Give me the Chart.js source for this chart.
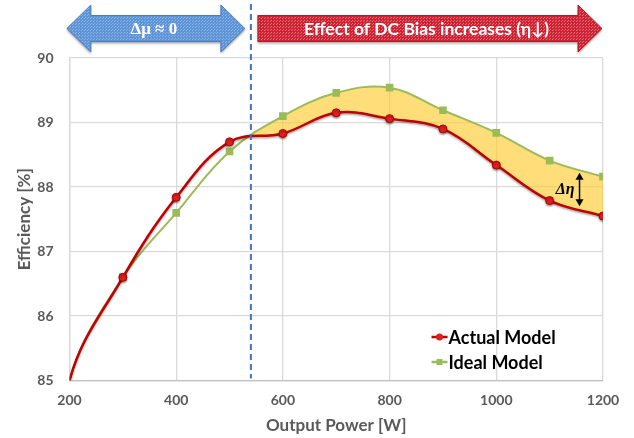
<!DOCTYPE html>
<html>
<head>
<meta charset="utf-8">
<script src="https://cdn.jsdelivr.net/npm/chart.js@4.4.1/dist/chart.umd.min.js"></script>
<style>
  html, body { margin: 0; padding: 0; background: #fff; }
</style>
</head>
<body>
<canvas id="chart" width="634" height="438"></canvas>
<script>
// data (the 100 W point lies below the axis and only shapes the curve)
const outputPower = [100, 200, 300, 400, 500, 600, 700, 800, 900, 1000, 1100, 1200];
const actualModel = [80.5, 85.0, 86.6, 87.84, 88.7, 88.83, 89.15, 89.06, 88.9, 88.34, 87.79, 87.55];
const idealModel = [80.5, 85.0, 86.6, 87.6, 88.55, 89.1, 89.46, 89.54, 89.19, 88.84, 88.41, 88.16];
const xTicks = [200, 400, 600, 800, 1000, 1200];
const yTicks = [85, 86, 87, 88, 89, 90];
const biasStart = 540; // where DC bias starts to matter

const seriesNames = ["Actual Model", "Ideal Model"];
const leftArrowText = "Δμ ≈ 0";
const rightArrowText = "Effect of DC Bias increases (η↓)";
const deltaText = "Δη";

const gray = "#595959";
const tickFont = { family: "Lato", weight: "bold", size: 14 };
const titleFont = { family: "Lato", weight: "bold", size: 17 };

function toPoints(ys) {
  return outputPower.map((x, i) => ({ x: x, y: ys[i] }));
}

function makePattern(ctx, base, dot) {
  const c = document.createElement("canvas");
  c.width = 3;
  c.height = 3;
  const g = c.getContext("2d");
  g.fillStyle = base;
  g.fillRect(0, 0, 3, 3);
  g.fillStyle = dot;
  g.fillRect(0, 0, 1, 1);
  g.fillRect(1, 2, 1, 1);
  return ctx.createPattern(c, "repeat");
}

function arrowPath(ctx, x0, x1, yc, bodyH, headH, headL, both) {
  const bt = yc - bodyH / 2, bb = yc + bodyH / 2;
  const ht = yc - headH / 2, hb = yc + headH / 2;
  ctx.beginPath();
  if (both) {
    ctx.moveTo(x0, yc);
    ctx.lineTo(x0 + headL, ht);
    ctx.lineTo(x0 + headL, bt);
  } else {
    ctx.moveTo(x0, bt);
  }
  ctx.lineTo(x1 - headL, bt);
  ctx.lineTo(x1 - headL, ht);
  ctx.lineTo(x1, yc);
  ctx.lineTo(x1 - headL, hb);
  ctx.lineTo(x1 - headL, bb);
  if (both) {
    ctx.lineTo(x0 + headL, bb);
    ctx.lineTo(x0 + headL, hb);
  } else {
    ctx.lineTo(x0, bb);
  }
  ctx.closePath();
}

function smallArrowHead(ctx, x, y, dir) {
  ctx.beginPath();
  ctx.moveTo(x, y);
  ctx.lineTo(x - 4, y - dir * 7);
  ctx.lineTo(x + 4, y - dir * 7);
  ctx.closePath();
  ctx.fill();
}

// hide markers that sit on or outside the left edge
function markerRadius(c) {
  return c.parsed && c.parsed.x <= 200 ? 0 : 4;
}

// drop shadow on the red line
const lineShadow = {
  id: "lineShadow",
  beforeDatasetDraw(chart, args) {
    if (args.index !== 0) return;
    const ctx = chart.ctx;
    ctx.save();
    ctx.shadowColor = "rgba(0,0,0,0.35)";
    ctx.shadowBlur = 2;
    ctx.shadowOffsetY = 1.5;
  },
  afterDatasetDraw(chart, args) {
    if (args.index !== 0) return;
    chart.ctx.restore();
  }
};

const annotations = {
  id: "annotations",
  afterDatasetsDraw(chart) {
    const ctx = chart.ctx;
    const xs = chart.scales.x, ys = chart.scales.y;
    const area = chart.chartArea;

    // dashed boundary line
    const bx = xs.getPixelForValue(biasStart);
    ctx.save();
    ctx.strokeStyle = "#4472C4";
    ctx.lineWidth = 2;
    ctx.setLineDash([6, 4]);
    ctx.beginPath();
    ctx.moveTo(bx, 4);
    ctx.lineTo(bx, area.bottom - 2);
    ctx.stroke();
    ctx.restore();

    // top arrows
    const yc = 28.5;
    ctx.save();
    ctx.shadowColor = "rgba(0,0,0,0.35)";
    ctx.shadowBlur = 2;
    ctx.shadowOffsetY = 2;
    arrowPath(ctx, xs.getPixelForValue(195), bx - 6, yc, 26, 47, 24, true);
    ctx.fillStyle = makePattern(ctx, "#5E93D6", "#8DB5E6");
    ctx.fill();
    ctx.shadowColor = "transparent";
    ctx.strokeStyle = "#4A7EC0";
    ctx.lineWidth = 1;
    ctx.stroke();

    ctx.shadowColor = "rgba(0,0,0,0.35)";
    arrowPath(ctx, bx + 7, xs.getPixelForValue(1200) - 1, yc, 26, 47, 24, false);
    ctx.fillStyle = makePattern(ctx, "#CC2232", "#E8707A");
    ctx.fill();
    ctx.shadowColor = "transparent";
    ctx.strokeStyle = "#B01C28";
    ctx.stroke();
    ctx.restore();

    ctx.save();
    ctx.fillStyle = "#fff";
    ctx.textAlign = "center";
    ctx.textBaseline = "middle";
    ctx.font = "bold 17px 'Liberation Serif'";
    ctx.fillText(leftArrowText, (xs.getPixelForValue(195) + bx - 6) / 2 - 2, yc + 1);
    ctx.font = "bold 17.5px Lato";
    ctx.fillText(rightArrowText, (bx + 7 + xs.getPixelForValue(1200)) / 2 - 4, yc + 1);
    ctx.restore();

    // delta eta marker
    const ax = xs.getPixelForValue(1156);
    const ay0 = ys.getPixelForValue(88.22), ay1 = ys.getPixelForValue(87.7);
    ctx.save();
    ctx.strokeStyle = "#000";
    ctx.fillStyle = "#000";
    ctx.lineWidth = 1.5;
    ctx.beginPath();
    ctx.moveTo(ax, ay0 + 4);
    ctx.lineTo(ax, ay1 - 4);
    ctx.stroke();
    smallArrowHead(ctx, ax, ay0, -1);
    smallArrowHead(ctx, ax, ay1, 1);
    ctx.font = "italic bold 16px 'Liberation Serif'";
    ctx.textAlign = "right";
    ctx.textBaseline = "middle";
    ctx.fillText(deltaText, ax - 5, (ay0 + ay1) / 2);
    ctx.restore();

    // legend inside plot
    const colors = [
      { line: "#C00000", fill: "#E0201E", point: "circle" },
      { line: "#9BBB59", fill: "#9BBB59", point: "rect" }
    ];
    ctx.save();
    ctx.font = "bold 18px Lato";
    ctx.textBaseline = "middle";
    ctx.textAlign = "left";
    seriesNames.forEach((name, i) => {
      const lx = area.left + 362, ly = area.top + 279 + i * 25;
      ctx.strokeStyle = colors[i].line;
      ctx.lineWidth = 2.5;
      ctx.beginPath();
      ctx.moveTo(lx, ly);
      ctx.lineTo(lx + 16, ly);
      ctx.stroke();
      ctx.fillStyle = colors[i].fill;
      if (colors[i].point === "circle") {
        ctx.beginPath();
        ctx.arc(lx + 8, ly, 3.5, 0, Math.PI * 2);
        ctx.fill();
      } else {
        ctx.fillRect(lx + 5, ly - 3, 6, 6);
      }
      ctx.fillStyle = "#000";
      ctx.fillText(name, lx + 17, ly + 1);
    });
    ctx.restore();
  }
};

const ctx = document.getElementById("chart").getContext("2d");
const myChart = new Chart(ctx, {
  type: "line",
  data: {
    datasets: [
      {
        label: seriesNames[0],
        data: toPoints(actualModel),
        borderColor: "#C00000",
        borderWidth: 2.5,
        pointStyle: "circle",
        pointRadius: markerRadius,
        pointBackgroundColor: "#E0201E",
        pointBorderColor: "#B00000",
        pointBorderWidth: 1,
        tension: 0.38,
        fill: false
      },
      {
        label: seriesNames[1],
        data: toPoints(idealModel),
        borderColor: "#9BBB59",
        borderWidth: 2,
        pointStyle: "rect",
        pointRadius: markerRadius,
        pointBackgroundColor: "#9BBB59",
        pointBorderColor: "#9BBB59",
        tension: 0.38,
        fill: { target: 0, above: "rgba(255,204,51,0.65)", below: "rgba(0,0,0,0)" }
      }
    ]
  },
  options: {
    responsive: false,
    animation: false,
    layout: { padding: { top: 58, right: 31, left: 0, bottom: 0 } },
    plugins: {
      legend: { display: false },
      tooltip: { enabled: false }
    },
    scales: {
      x: {
        type: "linear",
        min: 200,
        max: 1200,
        afterBuildTicks: (s) => { s.ticks = xTicks.map((v) => ({ value: v })); },
        afterFit: (s) => { s.height = 57.5; },
        ticks: { color: gray, font: tickFont, padding: 12, callback: (v) => String(v) },
        grid: { color: "#D9D9D9", lineWidth: 1.3, drawTicks: false },
        border: { color: "#BFBFBF", width: 1.3 },
        title: { display: true, text: "Output Power [W]", color: gray, font: titleFont, padding: { top: 0, bottom: 2 } }
      },
      y: {
        min: 85,
        max: 90,
        afterBuildTicks: (s) => { s.ticks = yTicks.map((v) => ({ value: v })); },
        afterFit: (s) => { s.width = 69.5; },
        ticks: { color: gray, font: tickFont, padding: 16 },
        grid: { color: "#D9D9D9", lineWidth: 1.3, drawTicks: false },
        border: { color: "#D9D9D9", width: 1.3 },
        title: { display: true, text: "Efficiency [%]", color: gray, font: titleFont, padding: { top: 14, bottom: 0 } }
      }
    }
  },
  plugins: [lineShadow, annotations]
});
</script>
</body>
</html>
